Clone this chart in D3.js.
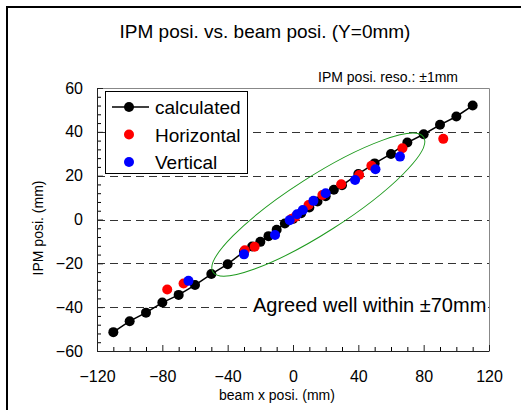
<!DOCTYPE html>
<html>
<head>
<meta charset="utf-8">
<script src="https://cdn.jsdelivr.net/npm/d3@7"></script>
<style>
  body { margin: 0; background: #fff; }
  svg { display: block; }
  text { font-family: Arial, "Liberation Sans", sans-serif; fill: #000; }
</style>
</head>
<body>
<svg id="chart" width="521" height="410"></svg>
<script>
// calculated line (black)
var calcX = [-110, -100, -90, -80, -70, -60, -50, -40, -30, -25, -20, -15, -10, -5, 0, 5, 10, 15, 20, 25, 30, 40, 50, 60, 70, 80, 90, 100, 110];
var calcY = [-51.4, -46.4, -42.5, -37.9, -34.4, -29.9, -24.9, -20.4, -14.6, -12.3, -10.2, -7.6, -4.7, -1.8, 0.3, 2.9, 5.5, 8.2, 10.6, 13.6, 15.6, 20.8, 25.6, 29.9, 35.1, 38.9, 43.2, 47.0, 52.0];
// measured, horizontal (red)
var horizX = [-77, -67, -29.5, -23.5, -1, 1.5, 9.5, 18, 29.5, 40.5, 48, 67, 92];
var horizY = [-31.9, -29.2, -14, -12.4, 0.2, 1.3, 6.6, 11.2, 16.1, 20.3, 24.5, 32.5, 36.8];
// measured, vertical (blue)
var vertX = [-64, -30, -11, -2, 2.5, 6, 12.5, 20, 38, 50.5, 65.5];
var vertY = [-28, -15.9, -7.1, -0.3, 2.4, 4.3, 8.5, 12, 18, 22.9, 28.7];

var xTicks = [-120, -80, -40, 0, 40, 80, 120];
var yTicks = [-60, -40, -20, 0, 20, 40, 60];
var gridY = [-40, -20, 0, 20, 40];
// ends of the green ellipse, in data units
var ellipseEnds = [[-49, -24], [80, 37.5]];

var legendNames = ["calculated", "Horizontal", "Vertical"];
var colors = { calculated: "#000", Horizontal: "#ff0000", Vertical: "#0000ff" };

var svg = d3.select("#chart");

// outer frame (runs off the right and bottom edge)
svg.append("rect")
  .attr("x", 7).attr("y", 7)
  .attr("width", 530).attr("height", 420)
  .style("fill", "none").style("stroke", "#000").style("stroke-width", 2);

var x = d3.scaleLinear().domain([-120, 120]).range([97, 489]);
var y = d3.scaleLinear().domain([-60, 60]).range([351, 88]);

// dashed grid
svg.append("g").selectAll("line").data(gridY).enter().append("line")
  .attr("x1", x(-120)).attr("x2", x(120))
  .attr("y1", function(d){ return Math.round(y(d)) + 0.5; })
  .attr("y2", function(d){ return Math.round(y(d)) + 0.5; })
  .style("stroke", "#333").style("stroke-width", 1).style("stroke-dasharray", "8,5");

// top and right border
svg.append("path")
  .attr("d", "M" + x(-120) + "," + (y(60) + 0.5) + "H" + (x(120) + 0.5) + "V" + y(-60))
  .style("fill", "none").style("stroke", "#888").style("stroke-width", 1);

// minor ticks
var xMinor = d3.range(-120, 121, 10).filter(function(v){ return xTicks.indexOf(v) < 0; });
var yMinor = d3.range(-60, 61, 4).filter(function(v){ return yTicks.indexOf(v) < 0; });

svg.append("g")
  .attr("transform", "translate(0," + y(-60) + ")")
  .call(d3.axisBottom(x).tickValues(xMinor).tickSize(-4).tickFormat(""))
  .call(function(g){ g.select(".domain").remove(); });

svg.append("g")
  .attr("transform", "translate(" + x(-120) + ",0)")
  .call(d3.axisLeft(y).tickValues(yMinor).tickSize(-4).tickFormat(""))
  .call(function(g){ g.select(".domain").remove(); });

// main axes
var xAxis = svg.append("g")
  .attr("transform", "translate(0," + y(-60) + ")")
  .call(d3.axisBottom(x).tickValues(xTicks).tickSize(-6).tickSizeOuter(0).tickPadding(20));
var yAxis = svg.append("g")
  .attr("transform", "translate(" + x(-120) + ",0)")
  .call(d3.axisLeft(y).tickValues(yTicks).tickSize(-6).tickSizeOuter(0).tickPadding(14));

[xAxis, yAxis].forEach(function(g){
  g.selectAll("text").style("font-size", "16px").style("font-family", "Arial, 'Liberation Sans', sans-serif");
  g.selectAll("line").style("stroke", "#222");
  g.select(".domain").style("stroke", "#222");
});

// calculated line + points
var calc = calcX.map(function(v, i){ return [v, calcY[i]]; });
svg.append("path")
  .datum(calc)
  .attr("d", d3.line().x(function(d){ return x(d[0]); }).y(function(d){ return y(d[1]); }))
  .style("fill", "none").style("stroke", "#000").style("stroke-width", 1.5);

function dots(xs, ys, color) {
  svg.append("g").selectAll("circle")
    .data(xs.map(function(v, i){ return [v, ys[i]]; }))
    .enter().append("circle")
    .attr("cx", function(d){ return x(d[0]); })
    .attr("cy", function(d){ return y(d[1]); })
    .attr("r", 5)
    .style("fill", color);
}
dots(calcX, calcY, colors.calculated);
dots(horizX, horizY, colors.Horizontal);
dots(vertX, vertY, colors.Vertical);

// green ellipse
var p1 = [x(ellipseEnds[0][0]), y(ellipseEnds[0][1])];
var p2 = [x(ellipseEnds[1][0]), y(ellipseEnds[1][1])];
var cx = (p1[0] + p2[0]) / 2, cy = (p1[1] + p2[1]) / 2;
var rx = Math.hypot(p2[0] - p1[0], p2[1] - p1[1]) / 2;
var ang = Math.atan2(p2[1] - p1[1], p2[0] - p1[0]) * 180 / Math.PI;
svg.append("ellipse")
  .attr("transform", "translate(" + cx + "," + cy + ") rotate(" + ang + ")")
  .attr("rx", rx).attr("ry", 28)
  .style("fill", "none").style("stroke", "#1e9a1e").style("stroke-width", 1);

// legend
var legend = svg.append("g");
legend.append("rect")
  .attr("x", 105.5).attr("y", 91.5).attr("width", 142).attr("height", 82)
  .style("fill", "#fff").style("stroke", "#000").style("stroke-width", 1);
legendNames.forEach(function(name, i){
  var ly = 107 + i * 27.5;
  if (name === "calculated") {
    legend.append("line").attr("x1", 112).attr("x2", 149).attr("y1", ly).attr("y2", ly)
      .style("stroke", "#000").style("stroke-width", 1.5);
  }
  legend.append("circle").attr("cx", 129).attr("cy", ly).attr("r", 5).style("fill", colors[name]);
  legend.append("text").attr("x", 155).attr("y", ly + 7).style("font-size", "19px").text(name);
});

// annotation box over the grid
svg.append("rect").attr("x", 247).attr("y", 294).attr("width", 241).attr("height", 24).style("fill", "#fff");
svg.append("text").attr("x", 253).attr("y", 312)
  .style("font-size", "20px").text("Agreed well within \u00b170mm");

// texts
svg.append("text").attr("x", 265).attr("y", 38).attr("text-anchor", "middle")
  .style("font-size", "19px").text("IPM posi. vs. beam posi. (Y=0mm)");
svg.append("text").attr("x", 458).attr("y", 82).attr("text-anchor", "end")
  .style("font-size", "14px").text("IPM posi. reso.: \u00b11mm");
svg.append("text").attr("x", 277).attr("y", 400).attr("text-anchor", "middle")
  .style("font-size", "14px").text("beam x posi. (mm)");
svg.append("text").attr("transform", "translate(43,228) rotate(-90)").attr("text-anchor", "middle")
  .style("font-size", "14px").text("IPM posi. (mm)");
</script>
</body>
</html>
